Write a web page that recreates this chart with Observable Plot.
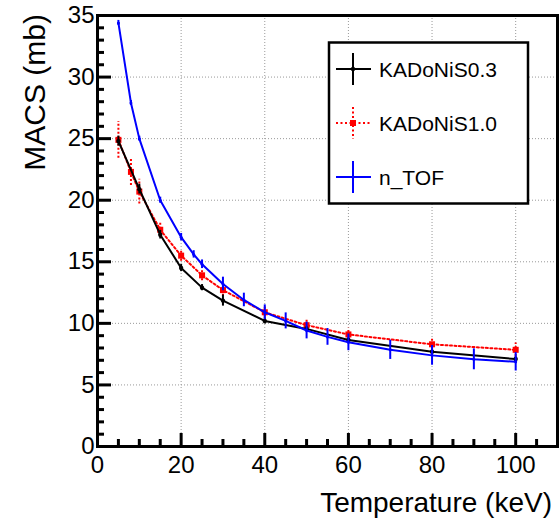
<!DOCTYPE html>
<html><head><meta charset="utf-8">
<script src="https://cdn.jsdelivr.net/npm/d3@7"></script>
<script src="https://cdn.jsdelivr.net/npm/@observablehq/plot@0.6"></script>
<style>body{margin:0;background:#fff}</style>
</head><body><div id="chart"></div>
<script>
// KADoNiS v0.3
const kT_k03 = [5, 10, 15, 20, 25, 30, 40, 50, 60, 80, 100];
const macs_k03 = [24.8, 20.9, 17.2, 14.5, 12.9, 11.85, 10.2, 9.55, 8.65, 7.7, 7.1];
const err_k03 = [0.4, 0.4, 0.35, 0.3, 0.25, 0.45, 0.25, 0.2, 0.2, 0.2, 0.2];
// KADoNiS v1.0
const kT_k10 = [5, 8, 10, 15, 20, 25, 30, 40, 50, 60, 80, 100];
const macs_k10 = [24.9, 22.3, 20.7, 17.6, 15.5, 13.9, 12.7, 10.9, 9.85, 9.1, 8.3, 7.85];
const err_k10 = [1.5, 1.1, 1.0, 0.6, 0.45, 0.45, 0.5, 0.4, 0.4, 0.5, 0.4, 0.55];
// n_TOF
const kT_ntof = [5, 8, 10, 15, 20, 23, 25, 30, 35, 40, 45, 50, 55, 60, 70, 80, 90, 100];
const macs_ntof = [34.4, 27.9, 25.0, 20.0, 17.0, 15.6, 14.8, 13.2, 11.9, 10.9, 10.2, 9.42, 8.9, 8.46, 7.85, 7.4, 7.08, 6.88];
const err_ntof = [0.2, 0.2, 0.2, 0.25, 0.3, 0.3, 0.35, 0.55, 0.55, 0.6, 0.65, 0.68, 0.68, 0.68, 0.78, 0.8, 0.85, 0.75];

const xTicks = [0, 20, 40, 60, 80, 100];
const yTicks = [0, 5, 10, 15, 20, 25, 30, 35];
const xMinor = [0, 5, 10, 15, 20, 25, 30, 35, 40, 45, 50, 55, 60, 65, 70, 75, 80, 85, 90, 95, 100, 105, 110];
const yMinor = [0, 1, 2, 3, 4, 5, 6, 7, 8, 9, 10, 11, 12, 13, 14, 15, 16, 17, 18, 19, 20, 21, 22, 23, 24, 25, 26, 27, 28, 29, 30, 31, 32, 33, 34, 35];
const legendLabels = ["KADoNiS0.3", "KADoNiS1.0", "n_TOF"];
const xTitle = "Temperature (keV)";
const yTitle = "MACS (mb)";

const rows = (T, V, E) => T.map((t, i) => ({t, v: V[i], e: E[i]}));
const d03 = rows(kT_k03, macs_k03, err_k03);
const d10 = rows(kT_k10, macs_k10, err_k10);
const dnt = rows(kT_ntof, macs_ntof, err_ntof);

const FONT = "'Liberation Sans', Arial, Helvetica, sans-serif";
const W = 559, H = 524, ML = 97, MR = 2, MT = 15, MB = 78;
const PW = W - ML - MR, PH = H - MT - MB;

function titlesMark() {
  const g = d3.create("svg:g").attr("font-family", FONT).attr("fill", "black");
  g.append("text").attr("x", 552).attr("y", 512).attr("text-anchor", "end")
    .attr("font-size", 28).text(xTitle);
  g.append("text").attr("transform", "translate(45,14) rotate(-90)").attr("text-anchor", "end")
    .attr("font-size", 30).text(yTitle);
  return g.node();
}

function legendMark() {
  const g = d3.create("svg:g").attr("font-family", FONT);
  g.append("rect").attr("x", 329).attr("y", 42.5).attr("width", 199).attr("height", 161)
    .attr("fill", "white").attr("stroke", "black").attr("stroke-width", 2.5);
  const ys = [69, 123, 177];
  const cols = ["black", "red", "blue"];
  const cx = 353;
  ys.forEach((yy, i) => {
    const dash = i === 1 ? "2,2.5" : null;
    g.append("line").attr("x1", 336).attr("x2", 371).attr("y1", yy).attr("y2", yy)
      .attr("stroke", cols[i]).attr("stroke-width", 2).attr("stroke-dasharray", dash);
    g.append("line").attr("x1", cx).attr("x2", cx).attr("y1", yy - 16).attr("y2", yy + 16)
      .attr("stroke", cols[i]).attr("stroke-width", 2).attr("stroke-dasharray", dash);
    if (i === 0) g.append("circle").attr("cx", cx).attr("cy", yy).attr("r", 2.2).attr("fill", "black");
    if (i === 1) g.append("rect").attr("x", cx - 3).attr("y", yy - 3).attr("width", 6).attr("height", 6).attr("fill", "red");
    if (i === 2) g.append("circle").attr("cx", cx).attr("cy", yy).attr("r", 1.5).attr("fill", "blue");
    g.append("text").attr("x", 379).attr("y", yy).attr("dy", "0.36em").attr("font-size", 21)
      .attr("text-anchor", "start").attr("fill", "black").text(legendLabels[i]);
  });
  return g.node();
}

const chart = Plot.plot({
  width: W,
  height: H,
  marginLeft: ML,
  marginRight: MR,
  marginTop: MT,
  marginBottom: MB,
  style: {fontFamily: FONT, fontSize: "24px", background: "white", color: "black"},
  x: {domain: [0, 110], ticks: xTicks, tickSize: 0, tickPadding: 9, label: null, tickFormat: d => String(d)},
  y: {domain: [0, 35], ticks: yTicks, tickSize: 0, tickPadding: 3, label: null, tickFormat: d => String(d)},
  marks: [
    Plot.ruleX([20, 40, 60, 80, 100], {x: d => d, stroke: "#999", strokeWidth: 1, strokeDasharray: "1,2"}),
    Plot.ruleY([5, 10, 15, 20, 25, 30], {y: d => d, stroke: "#999", strokeWidth: 1, strokeDasharray: "1,2"}),
    // KADoNiS1.0 (red dotted)
    Plot.ruleX(d10, {x: "t", y1: d => d.v - d.e, y2: d => d.v + d.e, stroke: "red", strokeWidth: 2, strokeDasharray: "2,2"}),
    Plot.line(d10, {x: "t", y: "v", stroke: "red", strokeWidth: 2, strokeDasharray: "2,2.5"}),
    Plot.dot(d10, {x: "t", y: "v", symbol: "square", r: 3.4, fill: "red", stroke: null}),
    // KADoNiS0.3 (black)
    Plot.ruleX(d03, {x: "t", y1: d => d.v - d.e, y2: d => d.v + d.e, stroke: "black", strokeWidth: 2}),
    Plot.line(d03, {x: "t", y: "v", stroke: "black", strokeWidth: 2}),
    Plot.dot(d03, {x: "t", y: "v", r: 2.2, fill: "black", stroke: null}),
    // n_TOF (blue)
    Plot.ruleX(dnt, {x: "t", y1: d => d.v - d.e, y2: d => d.v + d.e, stroke: "blue", strokeWidth: 2}),
    Plot.line(dnt, {x: "t", y: "v", stroke: "blue", strokeWidth: 2}),
    Plot.dot(dnt, {x: "t", y: "v", r: 1.5, fill: "blue", stroke: null}),
    // inward ticks
    Plot.ruleX(xMinor.filter(v => v % 20 !== 0), {x: d => d, insetTop: PH - 7, stroke: "black", strokeWidth: 3}),
    Plot.ruleX(xMinor.filter(v => v % 20 === 0), {x: d => d, insetTop: PH - 13, stroke: "black", strokeWidth: 3}),
    Plot.ruleY(yMinor.filter(v => v % 5 !== 0), {y: d => d, insetRight: PW - 7, stroke: "black", strokeWidth: 3}),
    Plot.ruleY(yMinor.filter(v => v % 5 === 0), {y: d => d, insetRight: PW - 14, stroke: "black", strokeWidth: 3}),
    Plot.frame({stroke: "black", strokeWidth: 3}),
    legendMark,
    titlesMark
  ]
});
document.getElementById("chart").appendChild(chart);
</script></body></html>
